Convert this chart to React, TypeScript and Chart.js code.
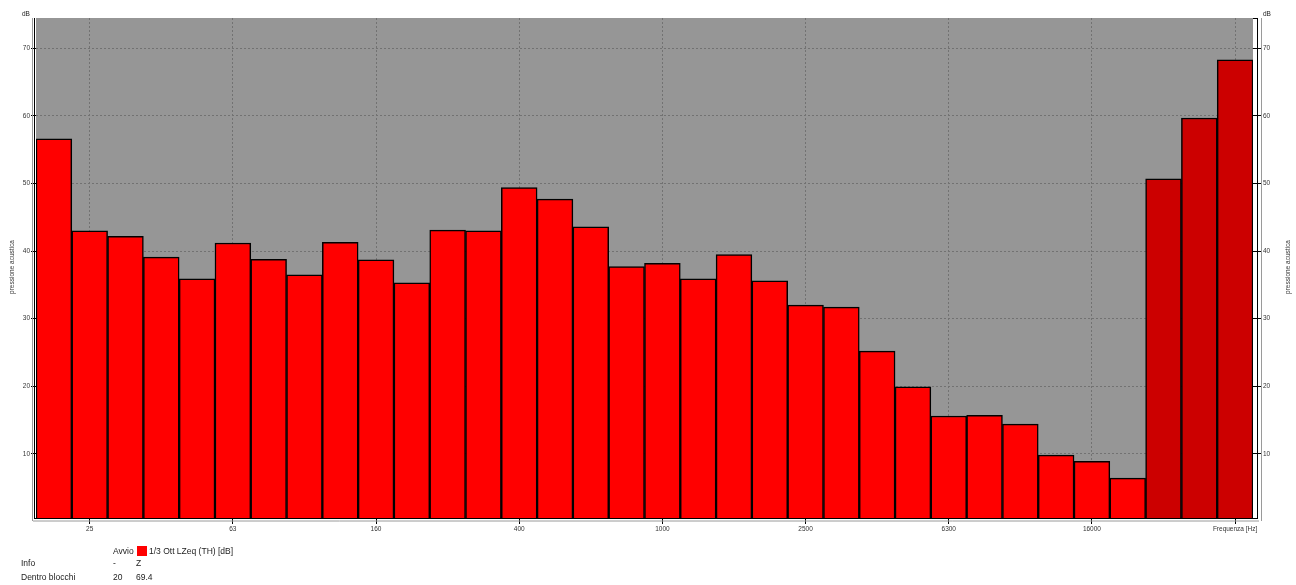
import React, { useEffect, useRef } from 'react';
import { Chart, registerables } from 'chart.js';

Chart.register(...registerables);

const bandLabels = ['20', '25', '31.5', '40', '50', '63', '80', '100', '125', '160', '200', '250', '315', '400', '500', '630', '800', '1000', '1250', '1600', '2000', '2500', '3150', '4000', '5000', '6300', '8000', '10000', '12500', '16000', '20000'];
const bandValues = [56.6, 43.0, 42.2, 39.1, 35.9, 41.2, 38.8, 36.5, 41.3, 38.7, 35.3, 43.1, 43.0, 49.4, 47.7, 43.6, 37.7, 38.2, 35.9, 39.5, 35.6, 32.0, 31.7, 25.2, 19.9, 15.6, 15.7, 14.4, 9.8, 8.9, 6.4];
const totalLabels = ['A', 'C', 'Z'];
const totalValues = [50.7, 59.7, 68.3];
const shownTickLabels = ['25', '63', '160', '400', '1000', '2500', '6300', '16000'];
const xAxisTitle = 'Frequenza [Hz]';
const yAxisTitle = 'pressione acustica';
const yUnit = 'dB';
const yTicks = [10, 20, 30, 40, 50, 60, 70];
const yMin = 0.5;
const yMax = 74.5;
const legendHeader = ['Avvio', '1/3 Ott LZeq (TH) [dB]'];
const legendRows = [
  ['Info', '-', 'Z'],
  ['Dentro blocchi', '20', '69.4'],
];

const FONT = '"Liberation Sans", Arial, sans-serif';

export default function App() {
  const ref = useRef<HTMLCanvasElement>(null);

  useEffect(() => {
    const labels = [...bandLabels, ...totalLabels];
    const data = [...bandValues, ...totalValues];
    const colors = labels.map((_, i) => (i < bandLabels.length ? '#ff0000' : '#cc0000'));
    const isShown = (i: number) => i === labels.length - 1 || shownTickLabels.includes(labels[i]);

    const bgPlugin = {
      id: 'bg',
      beforeDraw(chart: any) {
        const { ctx, chartArea: a } = chart;
        ctx.save();
        ctx.fillStyle = '#969696';
        ctx.fillRect(a.left, a.top, a.right - a.left, a.bottom - a.top);
        ctx.restore();
      },
    };

    const framePlugin = {
      id: 'frame',
      afterDraw(chart: any) {
        const { ctx, chartArea: a } = chart;
        const line = (x1: number, y1: number, x2: number, y2: number) => {
          ctx.beginPath();
          ctx.moveTo(x1, y1);
          ctx.lineTo(x2, y2);
          ctx.stroke();
        };
        ctx.save();
        ctx.lineWidth = 1;
        ctx.strokeStyle = '#000';
        line(a.right, a.top + 0.5, a.right + 4.5, a.top + 0.5);
        line(a.right + 4.5, a.top, a.right + 4.5, a.bottom + 1);
        line(a.left - 1.5, a.top, a.left - 1.5, a.bottom + 1);
        line(a.left - 2, a.bottom + 0.5, a.right + 5, a.bottom + 0.5);
        ctx.strokeStyle = '#9a9a9a';
        line(a.left - 3.5, a.top, a.left - 3.5, a.bottom + 3);
        line(a.right + 8.5, a.top, a.right + 8.5, a.bottom + 3);
        line(a.left - 3, a.bottom + 3, a.right + 6, a.bottom + 3);
        ctx.restore();
      },
    };

    const tickFont = { family: FONT, size: 6.5 };

    const chart = new Chart(ref.current as HTMLCanvasElement, {
      type: 'bar',
      data: {
        labels,
        datasets: [
          {
            data,
            backgroundColor: colors,
            borderColor: '#000',
            borderWidth: 1.5,
            barPercentage: 1,
            categoryPercentage: 1,
            yAxisID: 'y',
          },
        ],
      },
      options: {
        animation: false,
        responsive: false,
        devicePixelRatio: 1,
        layout: { padding: { top: 18, left: 0, right: 0, bottom: 0 } },
        plugins: { legend: { display: false }, tooltip: { enabled: false } },
        scales: {
          x: {
            type: 'category',
            afterFit(s: any) {
              s.height = 67;
            },
            grid: {
              offset: false,
              color: (c: any) => (isShown(c.index) ? '#727272' : 'rgba(0,0,0,0)'),
              tickColor: (c: any) => (isShown(c.index) ? '#000' : 'rgba(0,0,0,0)'),
              tickLength: 6,
              lineWidth: 1,
              tickBorderDash: [],
            },
            border: { display: false, dash: [2, 2] },
            ticks: {
              autoSkip: false,
              maxRotation: 0,
              minRotation: 0,
              padding: 1,
              color: '#333',
              font: tickFont,
              callback: (_v: any, i: number) =>
                i === labels.length - 1 ? xAxisTitle : shownTickLabels.includes(labels[i]) ? labels[i] : '',
            },
          },
          y: {
            position: 'left',
            min: yMin,
            max: yMax,
            afterFit(s: any) {
              s.width = 36;
            },
            afterBuildTicks(s: any) {
              s.ticks = yTicks.map((v) => ({ value: v }));
            },
            grid: { color: '#727272', tickColor: '#000', tickLength: 5, tickBorderDash: [] },
            border: { display: false, dash: [2, 2] },
            ticks: { padding: 1, color: '#333', font: tickFont },
          },
          y2: {
            position: 'right',
            min: yMin,
            max: yMax,
            afterFit(s: any) {
              s.width = 43;
            },
            afterBuildTicks(s: any) {
              s.ticks = yTicks.map((v) => ({ value: v }));
            },
            grid: { drawOnChartArea: false, tickColor: '#000', tickLength: 9 },
            border: { display: false },
            ticks: { padding: 1, color: '#333', font: tickFont },
          },
        },
      } as any,
      plugins: [bgPlugin, framePlugin] as any,
    });
    return () => chart.destroy();
  }, []);

  const txt = (text: string, left: number, cy: number, size = 9, key?: string) => (
    <div
      key={key ?? text + left + cy}
      style={{
        position: 'absolute',
        left,
        top: cy - 5.5,
        fontFamily: FONT,
        fontSize: size,
        lineHeight: '11px',
        color: '#222',
        whiteSpace: 'nowrap',
      }}
    >
      {text}
    </div>
  );

  const rot = (text: string, cx: number, cy: number) => (
    <div
      key={'r' + cx}
      style={{
        position: 'absolute',
        left: cx,
        top: cy,
        fontFamily: FONT,
        fontSize: 6.5,
        lineHeight: '8px',
        color: '#333',
        whiteSpace: 'nowrap',
        transform: 'translate(-50%, -50%) rotate(-90deg)',
      }}
    >
      {text}
    </div>
  );

  const colX = [21, 113, 136];
  const rowY = [563.5, 577.5];

  return (
    <div style={{ position: 'absolute', left: 0, top: 0, width: 1296, height: 585, background: '#fff' }}>
      <canvas ref={ref} width={1296} height={585} style={{ width: 1296, height: 585, display: 'block' }} />
      {txt(yUnit, 22, 13.5, 6.5, 'dbl')}
      {txt(yUnit, 1263, 13.5, 6.5, 'dbr')}
      {rot(yAxisTitle, 11.5, 267)}
      {rot(yAxisTitle, 1287.5, 267)}
      {txt(legendHeader[0], 113, 551, 8.5, 'lh0')}
      <div style={{ position: 'absolute', left: 137, top: 546, width: 10, height: 10, background: '#ff0000' }} />
      {txt(legendHeader[1], 149, 551, 8.5, 'lh1')}
      {legendRows.map((row, r) => row.map((cell, c) => txt(cell, colX[c], rowY[r], 8.5, `c${r}-${c}`)))}
    </div>
  );
}
